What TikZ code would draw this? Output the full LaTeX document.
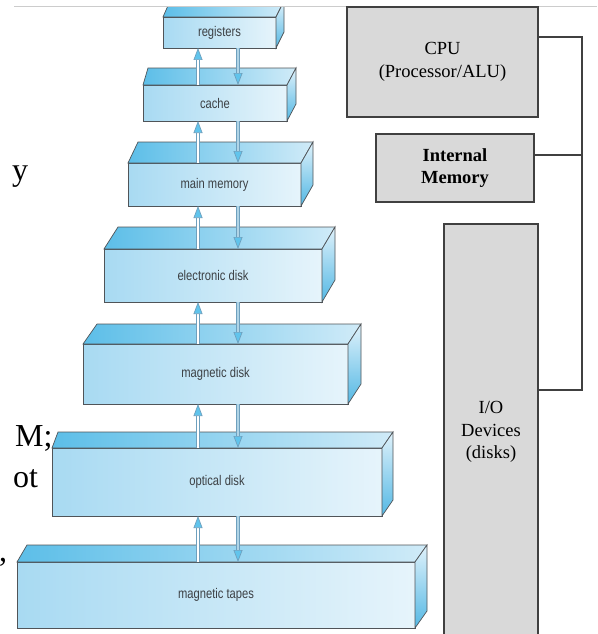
\documentclass[tikz,border=0pt]{standalone}
\usepackage{fontspec}
\setmainfont{Liberation Serif}
\newfontfamily\boxfont[FakeStretch=0.8]{Liberation Sans}
\usetikzlibrary{arrows.meta, calc}
\definecolor{frontL}{RGB}{168,218,242}
\definecolor{frontR}{RGB}{230,244,251}
\definecolor{topL}{RGB}{92,190,232}
\definecolor{topR}{RGB}{208,235,248}
\definecolor{sideT}{RGB}{224,242,251}
\definecolor{sideB}{RGB}{84,184,228}
\definecolor{edge}{RGB}{80,84,88}
\definecolor{boxtext}{RGB}{60,64,68}
\definecolor{tipcyan}{RGB}{96,196,236}
\definecolor{upedge}{RGB}{110,160,190}
\definecolor{downfill}{RGB}{176,212,230}
\definecolor{unitgray}{RGB}{217,217,217}
\definecolor{unitedge}{RGB}{64,64,64}
\tikzset{
  level/.style={
    rectangle, draw=edge, line width=0.7pt, left color=frontL, right color=frontR,
    inner sep=0pt, outer sep=0pt, text=boxtext, font=\boxfont\fontsize{14}{16}\selectfont
  },
  topface/.style={draw=edge, line width=0.7pt, left color=topL, right color=topR},
  sideface/.style={draw=edge, line width=0.7pt, top color=sideT, bottom color=sideB},
  uparrow/.style={
    -{Triangle[length=12pt,width=9pt,fill=tipcyan]}, draw=upedge, line width=0.7pt,
    double=white, double distance=2.6pt
  },
  downarrow/.style={
    -{Triangle[length=12pt,width=9pt,fill=tipcyan]}, draw=upedge, line width=0.7pt,
    double=downfill, double distance=2.6pt
  },
  unit/.style={
    rectangle, draw=unitedge, line width=1.1pt, fill=unitgray, align=center,
    inner sep=0pt, outer sep=0pt, font=\fontsize{18.5}{22.5}\selectfont
  },
  bus/.style={draw=unitedge, line width=1.1pt},
  slidetext/.style={font=\fontsize{32}{36}\selectfont, anchor=base west, inner sep=0pt}
}
% top and right faces of a slab: node, left shift, right shift, depth
\newcommand{\slab}[4]{%
  \path[topface] (#1.north west) -- (#1.north east) -- ++(#3,-#4)
    -- ($(#1.north west)+(#2,-#4)$) -- cycle;
  \path[sideface] (#1.north east) -- (#1.south east) -- ++(#3,-#4)
    -- ($(#1.north east)+(#3,-#4)$) -- cycle;
}
\begin{document}
\begin{tikzpicture}[x=1pt, y=-1pt]
    \useasboundingbox (0,0) rectangle (597,634);

    % Slide text cut off at the left
    \node[slidetext] (fy) at (12,180) {y};
    \node[slidetext] (fm) at (15,446) {M;};
    \node[slidetext] (fo) at (13,487) {ot};
    \node[slidetext] (fc) at (-1,561) {,};

    % Separator line
    \draw[gray!40, line width=1pt] (14,7) -- (597,7);

    % Storage hierarchy
    \begin{scope}
    \clip (0,7.5) rectangle (597,640);
    \node[level, minimum width=113pt, minimum height=31pt] (reg) at (219.5,32.5) {registers};
    \slab{reg}{7}{8}{16}
    \node[level, minimum width=144pt, minimum height=36pt] (cache) at (215,103) {cache};
    \slab{cache}{5}{9}{17}
    \node[level, minimum width=173pt, minimum height=43pt] (mem) at (214.5,184.5) {main memory};
    \slab{mem}{10}{12}{21}
    \node[level, minimum width=218pt, minimum height=53pt] (edisk) at (213,275.5) {electronic disk};
    \slab{edisk}{14}{13}{22}
    \node[level, minimum width=265pt, minimum height=60pt] (mdisk) at (215.5,374) {magnetic disk};
    \slab{mdisk}{14}{13}{20}
    \node[level, minimum width=330pt, minimum height=68pt] (odisk) at (217,482) {optical disk};
    \slab{odisk}{6}{11}{16}
    \node[level, minimum width=398pt, minimum height=66pt] (tapes) at (216,595) {magnetic tapes};
    \slab{tapes}{10}{12}{17}
    \end{scope}

    % Transfers between levels
    \coordinate (upx) at (198,0);
    \coordinate (dnx) at (238,0);
    \foreach \hi/\lo in {reg/cache, cache/mem, mem/edisk, edisk/mdisk, mdisk/odisk, odisk/tapes} {
      \draw[uparrow] (\lo.north -| upx) -- (\hi.south -| upx);
      \draw[downarrow] (\hi.south -| dnx) -- (\lo.north -| dnx);
    }

    % Computer units
    \node[unit, minimum width=191pt, minimum height=110pt] (cpu) at (442.5,62) {CPU\\(Processor/ALU)};
    \node[unit, minimum width=158pt, minimum height=68pt, font=\fontsize{18.5}{22.5}\selectfont\bfseries] (imem) at (455,168) {Internal\\Memory};
    \node[unit, minimum width=94pt, minimum height=416pt] (io) at (491,432) {I/O\\Devices\\(disks)};

    % Bus
    \coordinate (busA) at (582,37);
    \coordinate (busM) at (582,155);
    \coordinate (busB) at (582,390);
    \draw[bus] (cpu.east |- busA) -- (busA) -- (busB) -- (io.east |- busB);
    \draw[bus] (imem.east |- busM) -- (busM);
\end{tikzpicture}
\end{document}
